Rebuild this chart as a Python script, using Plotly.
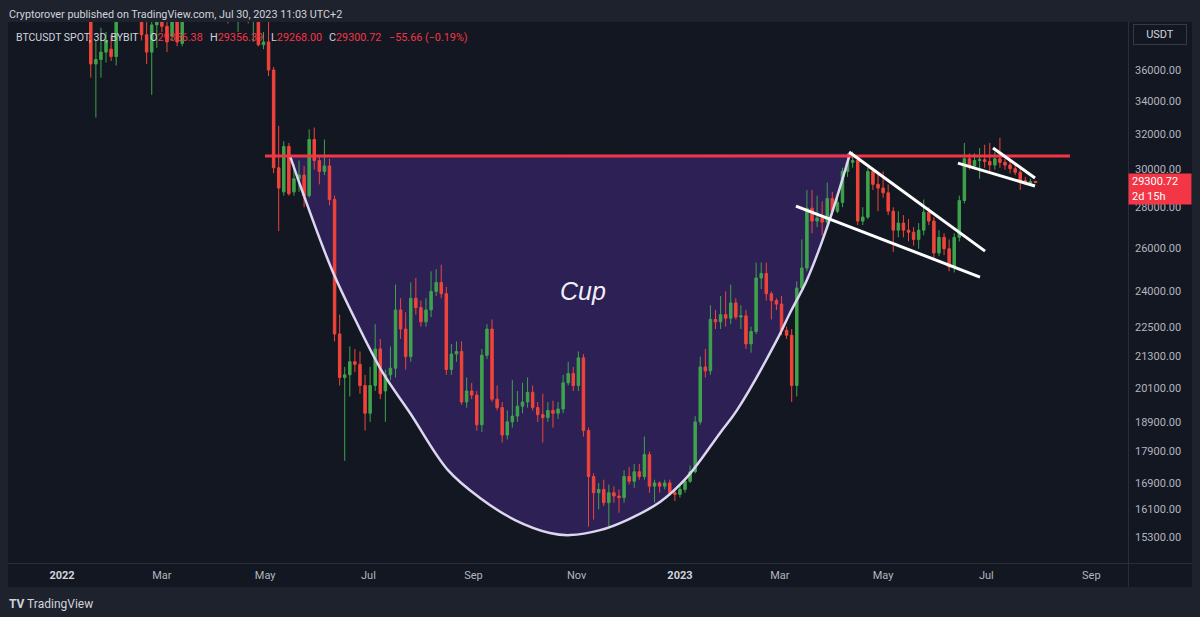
import numpy as np
import pandas as pd
import plotly.graph_objects as go

# ---------------- data (BTCUSDT, 3D candles) ----------------
candle_start = "2022-01-03"
opens = [46400, 43500, 41800, 42700, 43100, 42200, 36400, 36700, 37200, 37400,
         36900, 41500, 44000, 42400, 42600, 40500, 38400, 37200, 39100, 44400,
         39000, 38300, 39400, 37800, 41100, 42200, 42400, 44300, 47100, 45500,
         46400, 43200, 42800, 40100, 40600, 40800, 40500, 39500, 39700, 37700,
         37900, 36000, 30100, 28800, 31300, 28800, 29500, 29700, 28600, 31700,
         30500, 29900, 30200, 28400, 22200, 20500, 20600, 21100, 21000, 20200,
         19200, 20200, 21600, 20000, 20600, 20850, 23200, 22400, 21300, 23700,
         23300, 22700, 23200, 24000, 24400, 23900, 20800, 21400, 21500, 19600,
         20000, 19850, 18800, 21350, 22400, 19700, 19400, 18450, 18900, 19100,
         19450, 19600, 19950, 19400, 19150, 19050, 19300, 19200, 19350, 20300,
         20650, 20200, 21250, 18600, 17100, 16600, 16700, 16300, 16600, 16500,
         16450, 17100, 16950, 17250, 17100, 17800, 16800, 16900, 16800, 16900,
         16600, 16550, 16700, 16950, 17250, 18900, 20900, 20750, 22800, 22700,
         23000, 22850, 23500, 22900, 22950, 21800, 22300, 24600, 24800, 23900,
         23600, 23450, 22350, 22150, 20200, 24150, 25050, 27950, 27300, 27450,
         27250, 28450, 27800, 28250, 29900, 30400, 30500, 27300, 27500, 29900,
         29200, 29000, 28750, 27800, 26850, 27200, 26850, 26750, 26400, 26850,
         27750, 27300, 25750, 26500, 25950, 25100, 26500, 28350, 30600, 30200,
         30500, 30550, 30450, 30250, 30600, 30400, 30250, 30050, 29850, 29400,
         29250, 29356.38]
highs = [47500, 43800, 43100, 44400, 43800, 43500, 38000, 38900, 38600, 38400,
         41700, 44500, 45800, 42800, 44700, 40900, 39400, 40000, 44800, 45300,
         39600, 42500, 40000, 41700, 42400, 43300, 45000, 48200, 48100, 47400,
         47200, 43900, 43000, 41500, 41000, 42900, 40600, 40600, 40300, 38600,
         40000, 36200, 32500, 31600, 31500, 30300, 30500, 30200, 32300, 32400,
         30700, 31700, 30600, 28600, 23000, 20900, 21700, 21600, 21500, 20600,
         20900, 22600, 22000, 20800, 21700, 24300, 23700, 23100, 24400, 24600,
         23600, 23700, 24900, 25000, 25200, 24200, 21800, 21900, 21900, 20500,
         20300, 20000, 21600, 22600, 22800, 20200, 19600, 19300, 20400, 20000,
         20300, 20500, 20200, 19600, 19900, 19600, 19650, 19600, 20600, 21100,
         20900, 21500, 21400, 18700, 17200, 16900, 17000, 16850, 16800, 16700,
         17300, 17400, 17500, 17500, 18400, 17900, 17000, 16950, 17000, 17000,
         16700, 16800, 17000, 17450, 19100, 21300, 21600, 23400, 23200, 23800,
         24000, 24300, 23700, 23400, 23200, 22500, 25300, 25300, 25300, 24000,
         23700, 23800, 22500, 22400, 24450, 26400, 28900, 28900, 28600, 28300,
         29300, 28800, 28700, 30100, 30900, 31000, 30600, 28000, 30100, 30000,
         29800, 29900, 29200, 28000, 27800, 27600, 27400, 27000, 27200, 28400,
         28000, 27500, 26850, 26700, 26400, 26700, 28600, 31500, 30900, 30900,
         31200, 31400, 31500, 31000, 31800, 30600, 30500, 30400, 30200, 29600,
         29500, 29356.39]
lows = [42500, 40600, 39600, 41900, 41600, 35500, 33000, 35500, 36500, 36600,
        36300, 41100, 42000, 41600, 40100, 38000, 36400, 34400, 37500, 38600,
        37200, 38000, 37600, 37600, 40100, 40900, 42000, 44100, 45200, 44200,
        43200, 42700, 39200, 39600, 38600, 40000, 39200, 37900, 37600, 37400,
        35600, 29800, 26800, 28600, 28600, 28600, 28800, 28000, 28500, 30000,
        29200, 29700, 28100, 21900, 20200, 17600, 19800, 20700, 19900, 18600,
        18900, 20000, 19700, 18900, 20400, 20500, 22000, 20800, 21100, 23000,
        22500, 22500, 22900, 23800, 23700, 20600, 20600, 21100, 19500, 19400,
        19700, 18600, 18550, 21200, 19600, 19300, 18200, 18300, 18700, 18900,
        19200, 19400, 19300, 18900, 18200, 18900, 18700, 19000, 19200, 20200,
        20000, 20000, 18400, 15600, 15800, 16100, 16200, 15600, 16300, 16000,
        16300, 16850, 16750, 17000, 17000, 16600, 16300, 16600, 16700, 16500,
        16350, 16450, 16600, 16900, 17200, 18800, 20500, 20600, 22400, 22400,
        22500, 22600, 22800, 22400, 21600, 21450, 22200, 24100, 23600, 22800,
        23200, 22150, 22000, 19600, 19800, 24000, 24900, 26700, 27000, 26600,
        27000, 27600, 27700, 28000, 29600, 30100, 27100, 27100, 27400, 28900,
        27800, 28500, 27600, 25800, 26500, 26500, 26300, 26100, 25950, 26600,
        27100, 25500, 25600, 25650, 24900, 24850, 26300, 28200, 30000, 30000,
        29500, 30100, 29900, 30000, 30100, 30000, 29800, 29700, 28900, 29150,
        29100, 29268.00]
closes = [43500, 41800, 42700, 43100, 42200, 36400, 36700, 37200, 38000, 36900,
          41500, 44000, 42400, 42600, 40500, 38400, 37200, 39100, 44400, 39000,
          37900, 39400, 37900, 41100, 42200, 42400, 44300, 47100, 45500, 46400,
          43200, 42800, 40100, 40600, 40800, 40500, 39500, 39700, 37700, 37900,
          36000, 30100, 29000, 31300, 28700, 29500, 29700, 28600, 31700, 30500,
          29900, 30200, 28400, 22200, 20500, 20600, 21100, 21000, 20200, 19200,
          20200, 21600, 19900, 20600, 20850, 23200, 22400, 21300, 23700, 23300,
          22700, 23200, 24000, 24400, 23900, 20800, 21400, 21500, 19600, 20000,
          19850, 18800, 21350, 22400, 19700, 19400, 18450, 18900, 19100, 19450,
          19600, 19950, 19400, 19150, 19050, 19300, 19200, 19350, 20300, 20650,
          20200, 21250, 18600, 17100, 16600, 16700, 16300, 16600, 16500, 16450,
          17100, 16950, 17250, 17100, 17800, 16800, 16900, 16800, 16900, 16600,
          16550, 16700, 16950, 17250, 18900, 20900, 20750, 22800, 22700, 23000,
          22850, 23500, 22900, 22950, 21800, 22300, 24600, 24800, 23900, 23600,
          23450, 22350, 22150, 20200, 24150, 25050, 27950, 27300, 27450, 27250,
          28450, 27800, 28250, 29900, 30400, 30500, 27300, 27500, 29900, 29200,
          29000, 28750, 27800, 26850, 27200, 26850, 26750, 26400, 26850, 27750,
          27300, 25750, 26500, 25950, 25100, 26500, 28350, 30600, 30200, 30500,
          30550, 30450, 30250, 30600, 30400, 30250, 30050, 29850, 29400, 29250,
          29356.38, 29300.72]
dates = pd.date_range(candle_start, periods=len(opens), freq="3D")

# drawings
resistance_dates = ["2022-04-30 22:00", "2023-08-19 09:00"]
resistance_price = 30750

cup_dates = ["2022-05-15 17:00", "2022-05-23 08:00", "2022-06-09 12:00", "2022-06-24 05:00",
             "2022-07-09 14:00", "2022-07-25 14:00", "2022-08-17 00:00", "2022-09-04 22:00",
             "2022-09-25 14:00", "2022-10-16 05:00", "2022-10-28 02:00", "2022-11-14 19:00",
             "2022-11-30 17:00", "2022-12-20 05:00", "2023-01-05 05:00", "2023-01-24 17:00",
             "2023-02-03 17:00", "2023-02-27 07:00", "2023-03-07 00:00", "2023-03-17 00:00",
             "2023-03-30 14:00", "2023-04-11 12:00"]
cup_prices = [30750, 28740, 24960, 22650, 20670, 19210, 17300, 16440, 15790, 15420, 15360,
              15500, 15790, 16320, 17080, 18520, 19310, 21960, 23070, 24510, 27400, 30900]

wedge_top_dates = ["2023-04-10 22:00", "2023-06-30 05:00"]
wedge_top_prices = [30980, 25840]
wedge_bottom_dates = ["2023-03-10 13:00", "2023-06-27 05:00"]
wedge_bottom_prices = [28060, 24640]
flag_top_dates = ["2023-07-04 22:00", "2023-07-29 17:00"]
flag_top_prices = [31210, 29540]
flag_bottom_dates = ["2023-06-14 05:00", "2023-07-29 17:00"]
flag_bottom_prices = [30360, 29110]

cup_label_date = "2022-11-04 17:00"
cup_label_price = 24016

price_ticks = [15300, 16100, 16900, 17900, 18900, 20100, 21300, 22500,
               24000, 26000, 28000, 30000, 32000, 34000, 36000]
time_ticks = ["2022-01-01", "2022-03-01", "2022-05-01", "2022-07-01", "2022-09-01",
              "2022-11-01", "2023-01-01", "2023-03-01", "2023-05-01", "2023-07-01", "2023-09-01"]
time_labels = ["2022", "Mar", "May", "Jul", "Sep", "Nov", "2023", "Mar", "May", "Jul", "Sep"]

x_range = ["2021-11-30 02:30", "2023-09-22 01:30"]
y_range_prices = [14595, 39310]

last_o, last_h, last_l, last_c = 29356.38, 29356.39, 29268.00, 29300.72
last_chg, last_pct = -55.66, -0.19

# ---------------- styling ----------------
UP = "#3ea34c"
DOWN = "#f0443a"
RED_LINE = "#f23645"
PANE = "#131722"
OUTER = "#1e222d"
TXT = "#b2b5be"
FONT = "Roboto"

W, H = 1200, 617
PL, PR, PT, PB = 8, 1127, 22, 563


def px_x(p):
    return (p - PL) / (PR - PL)


def px_y(p):
    return (PB - p) / (PB - PT)


fig = go.Figure()

# cup fill (bottom subplot layer)
fig.add_trace(go.Scatter(x=cup_dates, y=cup_prices, mode="lines", fill="toself",
                         fillcolor="#2c2054", line=dict(width=0, shape="spline"),
                         hoverinfo="skip", yaxis="y", xaxis="x"))

# candles on overlaid axis (drawn above fill)
fig.add_trace(go.Candlestick(x=dates, open=opens, high=highs, low=lows, close=closes,
                             increasing=dict(line=dict(color=UP, width=1), fillcolor=UP),
                             decreasing=dict(line=dict(color=DOWN, width=1), fillcolor=DOWN),
                             whiskerwidth=0, hoverinfo="skip", yaxis="y2", xaxis="x"))

# cup outline
fig.add_trace(go.Scatter(x=cup_dates, y=cup_prices, mode="lines",
                         line=dict(color="#dcd6f0", width=2.5, shape="spline"),
                         hoverinfo="skip", yaxis="y2"))
# resistance
fig.add_trace(go.Scatter(x=resistance_dates, y=[resistance_price] * 2, mode="lines",
                         line=dict(color=RED_LINE, width=3), hoverinfo="skip", yaxis="y2"))
# wedge and flag lines
for dx, py in [(wedge_top_dates, wedge_top_prices), (wedge_bottom_dates, wedge_bottom_prices),
               (flag_top_dates, flag_top_prices), (flag_bottom_dates, flag_bottom_prices)]:
    fig.add_trace(go.Scatter(x=dx, y=py, mode="lines", line=dict(color="#ffffff", width=3),
                             hoverinfo="skip", yaxis="y2"))

yr = [np.log10(y_range_prices[0]), np.log10(y_range_prices[1])]

ticktext_x = []
for lab in time_labels:
    if lab.isdigit():
        ticktext_x.append(f'<span style="color:#d1d4dc"><b>{lab}</b></span>')
    else:
        ticktext_x.append(lab)

fig.update_layout(
    width=W, height=H, template="none",
    margin=dict(l=PL, r=W - PR, t=PT, b=H - PB, pad=0),
    paper_bgcolor=OUTER, plot_bgcolor=PANE,
    showlegend=False,
    font=dict(family=FONT, color=TXT, size=11),
    xaxis=dict(type="date", range=x_range, tickvals=time_ticks, ticktext=ticktext_x,
               showgrid=False, zeroline=False, showline=False, ticks="",
               tickfont=dict(size=11, color=TXT), ticklabelstandoff=4,
               rangeslider=dict(visible=False), automargin=False, fixedrange=True),
    yaxis=dict(type="log", range=yr, side="right", tickvals=price_ticks,
               ticktext=[f"{v:.2f}" for v in price_ticks], showgrid=False, zeroline=False,
               showline=False, ticks="", tickfont=dict(size=11, color=TXT),
               ticklabelstandoff=7, automargin=False, fixedrange=True),
    yaxis2=dict(type="log", range=yr, overlaying="y", side="right", visible=False,
                showgrid=False, zeroline=False, fixedrange=True),
)

shapes = [
    dict(type="rect", xref="paper", yref="paper", x0=px_x(8), x1=px_x(1192),
         y0=px_y(587), y1=px_y(22), fillcolor=PANE, line=dict(width=0), layer="below"),
    dict(type="line", xref="paper", yref="paper", x0=px_x(8), x1=px_x(1192),
         y0=px_y(563.5), y1=px_y(563.5), line=dict(color="#2a2e39", width=1)),
    dict(type="line", xref="paper", yref="paper", x0=px_x(1128.5), x1=px_x(1128.5),
         y0=px_y(587), y1=px_y(22), line=dict(color="#2a2e39", width=1)),
]
fig.update_layout(shapes=shapes)

rs = lambda s: f'<span style="color:#f23645">{s}</span>'
legend_parts = [
    (15, 10.5, '<span style="color:#d1d4dc">BTCUSDT SPOT, 3D, BYBIT</span>'),
    (149, 10.8, f'O{rs(f"{last_o:.2f}")}'),
    (209, 10.8, f'H{rs(f"{last_h:.2f}")}'),
    (270, 10.8, f'L{rs(f"{last_l:.2f}")}'),
    (328, 10.8, f'C{rs(f"{last_c:.2f}")}'),
    (388, 10.8, rs(f"−{abs(last_chg):.2f} (−{abs(last_pct):.2f}%)")),
]

annotations = [
    dict(xref="paper", yref="paper", x=px_x(7), y=px_y(14), xanchor="left", yanchor="middle",
         text="Cryptorover published on TradingView.com, Jul 30, 2023 11:03 UTC+2",
         showarrow=False, font=dict(size=10.8, color="#d1d4dc", family=FONT)),
    dict(xref="paper", yref="paper", x=px_x(1160), y=px_y(35), xanchor="center", yanchor="middle",
         text="USDT", showarrow=False, bgcolor=PANE, bordercolor="#363a45", borderwidth=1,
         borderpad=3, width=46, font=dict(size=11, color="#d1d4dc", family=FONT)),
    dict(xref="paper", yref="y", x=px_x(1128), y=np.log10(last_c), xanchor="left", yanchor="top",
         yshift=9.5, text=f"{last_c:.2f}<br>2d 15h", showarrow=False, bgcolor="#f23645",
         borderpad=3, width=56, height=24, align="left",
         font=dict(size=11, color="#ffffff", family=FONT)),
    dict(xref="x", yref="y", x=cup_label_date, y=np.log10(cup_label_price), text="<i>Cup</i>",
         showarrow=False, font=dict(size=25, color="#f0eef8", family="Liberation Sans")),
    dict(xref="paper", yref="paper", x=px_x(7), y=px_y(604), xanchor="left", yanchor="middle",
         text='<b>TV</b> TradingView', showarrow=False,
         font=dict(size=12, color="#d1d4dc", family=FONT)),
]
for xp, fs, txt in legend_parts:
    annotations.append(dict(xref="paper", yref="paper", x=px_x(xp - 1), y=px_y(37.5),
                            xanchor="left", yanchor="middle", text=txt, showarrow=False,
                            font=dict(size=fs, color="#d1d4dc", family=FONT)))
fig.update_layout(annotations=annotations)

fig.write_html("out.html", config={"displayModeBar": False},
               post_script="document.body.style.margin='0';document.body.style.overflow='hidden';")
